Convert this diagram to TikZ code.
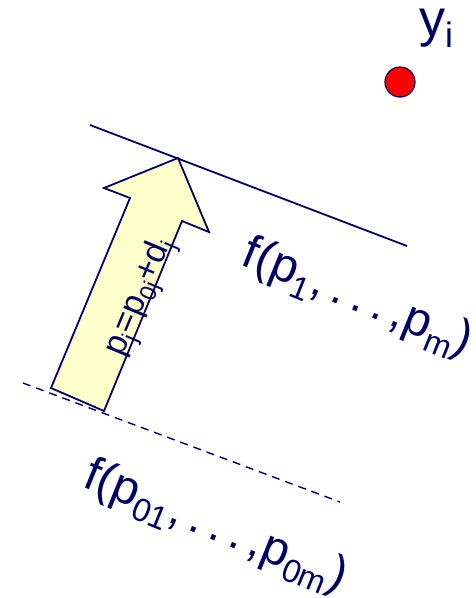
\documentclass[tikz,border=0pt]{standalone}
\usepackage{fontspec}
\usepackage{graphicx}
\setmainfont{Liberation Sans}
\definecolor{navy}{RGB}{0,0,102}
\definecolor{paleyellow}{RGB}{255,255,204}
\newcommand\sbx[1]{\raisebox{-0.22em}{\scalebox{0.68}{#1}}}
\tikzset{
  edgeline/.style={draw=navy, line width=1.8pt},
  label45/.style={text=navy, font=\fontsize{48}{56}\selectfont, inner sep=0pt},
  arrowtext/.style={text=navy, font=\fontsize{34}{40}\selectfont, inner sep=0pt}
}
\begin{document}
\begin{tikzpicture}[x=1pt,y=-1pt]
\useasboundingbox (0,0) rectangle (476,598);
\coordinate (s1) at (90,125);
\coordinate (s2) at (407,246);
\coordinate (d1) at (23,383);
\coordinate (d2) at (340,502);
\draw[edgeline] (s1) -- (s2);
\draw[edgeline, line width=1.4pt, dash pattern=on 8pt off 6pt] (d1) -- (d2);
\filldraw[fill=paleyellow, edgeline, line join=miter] (178,158) -- (209,232) -- (182,221) -- (104,411) -- (51,388) -- (130,198) -- (104,188) -- cycle;
\node[arrowtext, rotate=67.4] (pj) at (141,298) {p\sbx{j}=p\sbx{0j}+d\sbx{j}};
\node[label45, rotate=-22] (fp) at (357,299) {f(p\sbx{1},\,.\,.\,.\,,p\sbx{m})};
\node[label45, rotate=-22] (fp0) at (215,528) {f(p\sbx{01},\,.\,.\,.\,,p\sbx{0m})};
\node[label45, font=\fontsize{52}{60}\selectfont] (yi) at (436,28) {y\sbx{i}};
\node[circle, fill=red, draw=navy, line width=1.2pt, minimum size=30pt, inner sep=0pt] (dot) at (400,82) {};
\end{tikzpicture}
\end{document}
